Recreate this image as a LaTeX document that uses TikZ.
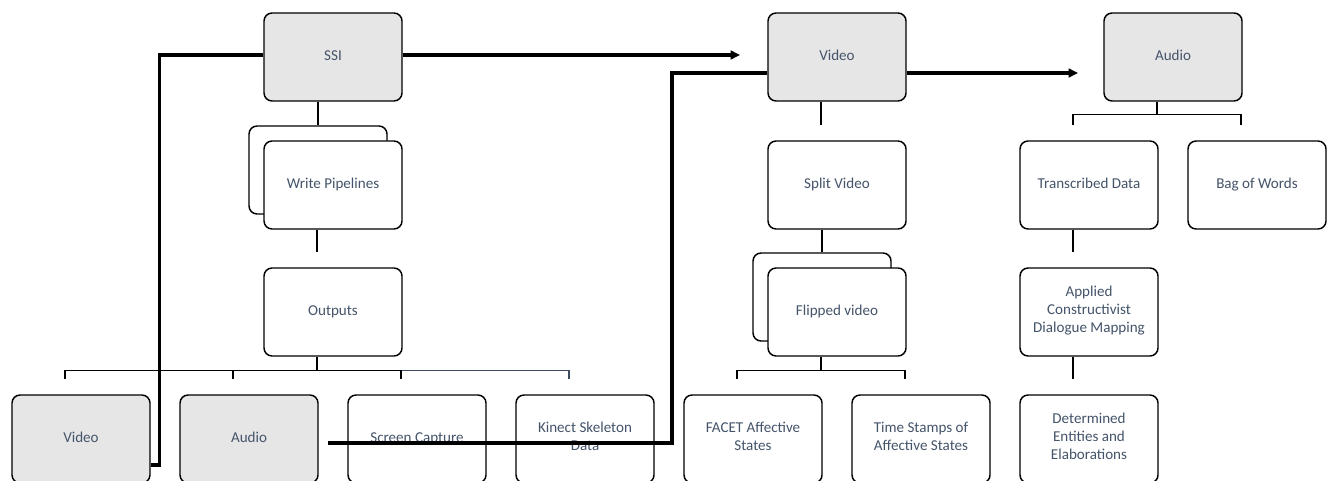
\documentclass[tikz,border=0pt]{standalone}
\usepackage{fontspec}
\setmainfont{Carlito}
\usetikzlibrary{arrows.meta}
\definecolor{txt}{HTML}{44546A}
\definecolor{shade}{HTML}{E7E6E6}
\definecolor{bluegray}{HTML}{3E4A5E}
\tikzset{
  every picture/.style={
    font=\fontsize{11.3}{13.2}\selectfont,
    >={Triangle[length=7pt,width=6.5pt]},
  },
  box/.style={draw, rounded corners=6pt, minimum width=103.5pt, minimum height=66pt,
    inner sep=0pt, align=center, text=txt, fill=white, line width=1.1pt,
    execute at begin node=\strut},
  topbox/.style={box, fill=shade},
  conn/.style={line width=1.1pt},
  link/.style={line width=2.6pt},
}
\begin{document}
\begin{tikzpicture}[x=0.75pt,y=-0.75pt]
\useasboundingbox (0,0) rectangle (1335,481);
% SSI column
\node[topbox] (ssi) at (333,57) {SSI};
\node[box] (wpb) at (318,170) {};
\node[box] (wp) at (333,185) {Write Pipelines};
\node[box] (out) at (333,312) {Outputs};
\node[topbox] (v1) at (81,439) {Video};
\node[topbox] (a1) at (249,439) {Audio};
\node[box] (sc) at (417,439) {Screen Capture};
\node[box] (ks) at (585,439) {Kinect Skeleton\\Data};
% Video column
\node[topbox] (vidt) at (837,57) {Video};
\node[box] (split) at (837,185) {Split Video};
\node[box] (flipb) at (822,297) {};
\node[box] (flip) at (837,312) {Flipped video};
\node[box] (facet) at (753,439) {FACET Affective\\States};
\node[box] (ts) at (921,439) {Time Stamps of\\Affective States};
% Audio column
\node[topbox] (audt) at (1173,57) {Audio};
\node[box] (tr) at (1089,185) {Transcribed Data};
\node[box] (bow) at (1257,185) {Bag of Words};
\node[box] (acdm) at (1089,312) {Applied\\Constructivist\\Dialogue Mapping};
\node[box] (det) at (1089,439) {Determined\\Entities and\\Elaborations};

% hierarchy lines
\draw[conn] (wpb.north |- ssi.south) -- (wpb.north);
\draw[conn] ([shift={(-16,0)}]wp.south) -- ([shift={(-16,-15)}]out.north);
\draw[conn] ([shift={(-16,0)}]out.south) -- ++(0,14) coordinate (outbr);
\draw[conn,bluegray] (outbr) -| ([shift={(-16,-15)}]ks.north);
\foreach \c in {v1,a1,sc}
  \draw[conn] (outbr) -| ([shift={(-16,-15)}]\c.north);

\draw[conn] ([shift={(-16,0)}]vidt.south) -- ([shift={(-16,-15)}]split.north);
\draw[conn] (flipb.north |- split.south) -- (flipb.north);
\draw[conn] ([shift={(-16,0)}]flip.south) -- ++(0,14) coordinate (flipbr);
\foreach \c in {facet,ts}
  \draw[conn] (flipbr) -| ([shift={(-16,-15)}]\c.north);

\draw[conn] ([shift={(-16,0)}]audt.south) -- ++(0,13) coordinate (audbr);
\foreach \c in {tr,bow}
  \draw[conn] (audbr) -| ([shift={(-16,-15)}]\c.north);
\draw[conn] ([shift={(-16,0)}]tr.south) -- ([shift={(-16,-15)}]acdm.north);
\draw[conn] ([shift={(-16,0)}]acdm.south) -- ([shift={(-16,-15)}]det.north);

% flow lines
\coordinate (ssitip) at (740,55);
\coordinate (capstart) at (328,443);
\coordinate (audtip) at (1078,73);
\draw[link] ([shift={(0,26)}]v1.east) -- ++(9,0) |- ([shift={(0,-2)}]ssi.west);
\draw[link,->] ([shift={(0,-2)}]ssi.east) -- (ssitip);
\draw[link] (capstart) -- ++(344,0) |- ([shift={(0,16)}]vidt.west);
\draw[link,->] ([shift={(0,16)}]vidt.east) -- (audtip);
\end{tikzpicture}
\end{document}
